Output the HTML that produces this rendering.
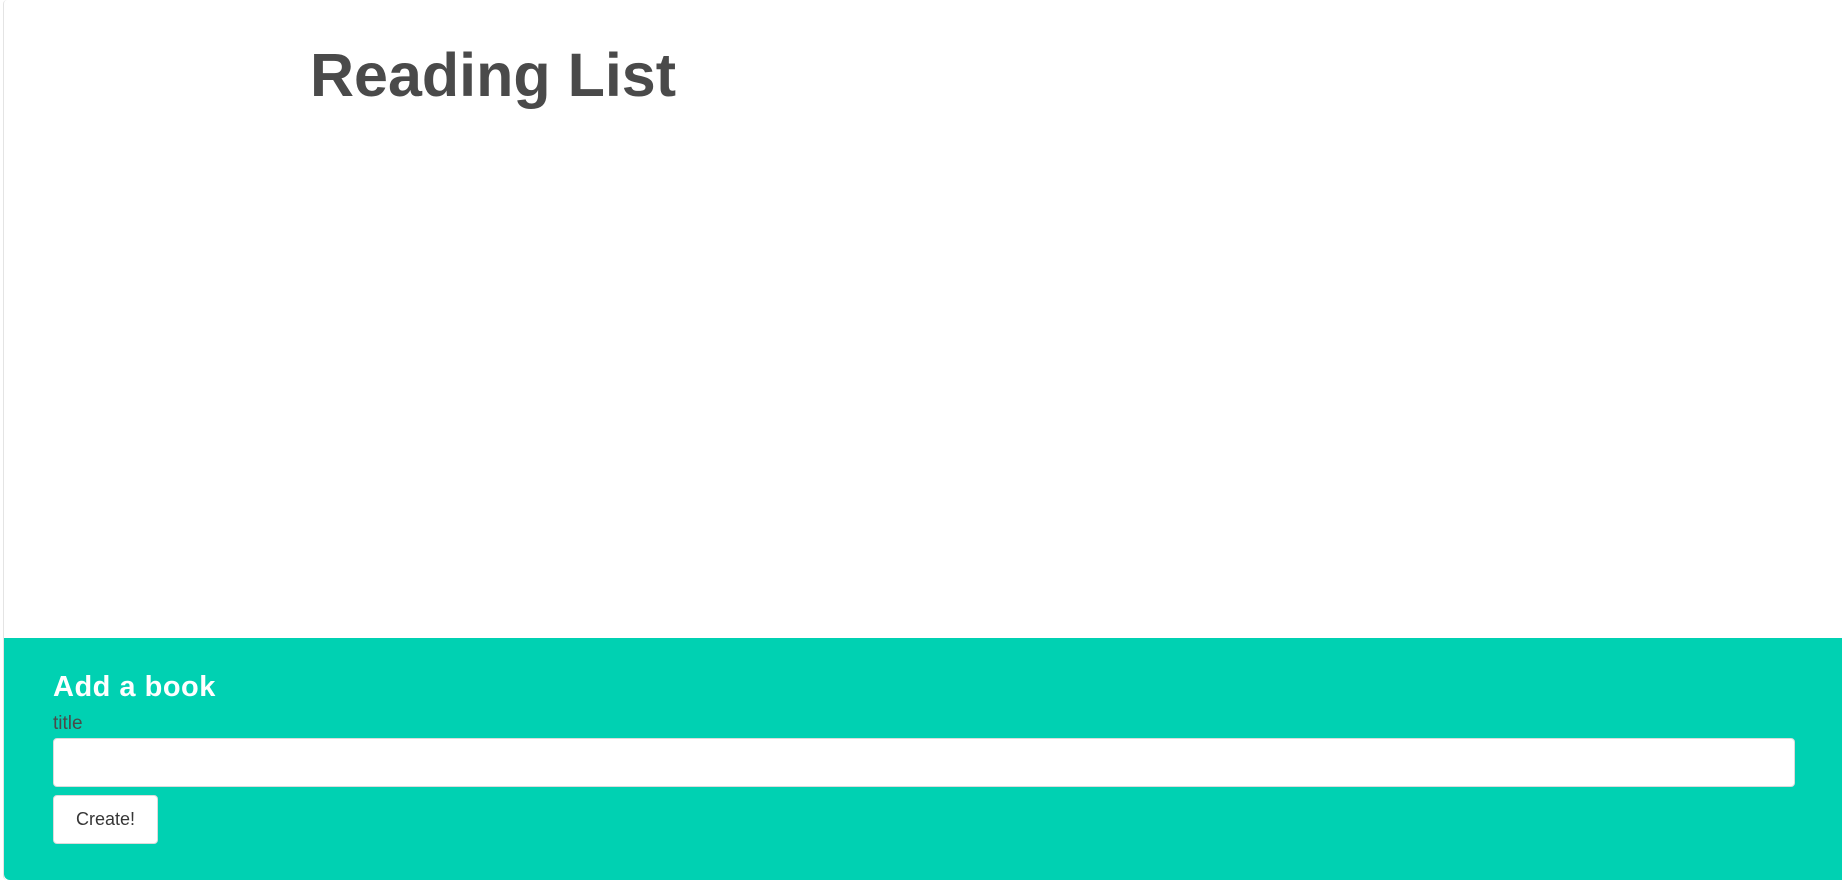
<!DOCTYPE html>
<html><head><meta charset="utf-8"><style>
html,body{margin:0;padding:0;width:1842px;height:880px;overflow:hidden;background:#fff;font-family:"Liberation Sans",sans-serif;}
#card{position:absolute;left:3px;top:0;width:1839px;height:880px;border-left:1px solid #e4e4e4;border-radius:4px 0 0 4px;overflow:hidden;box-sizing:border-box;}
#title{position:absolute;left:306px;top:39px;margin:0;font-size:61px;font-weight:bold;color:#4a4a4a;line-height:72px;letter-spacing:0px;}
#footer{position:absolute;left:0;top:638px;width:1839px;height:242px;background:#00d1b2;border-radius:0 0 0 6px;}
#add{position:absolute;left:49px;top:31px;margin:0;font-size:29px;font-weight:bold;color:#fff;line-height:36px;letter-spacing:0.5px;}
#lbl{position:absolute;left:49px;top:75px;font-size:19px;color:#4a4a4a;line-height:22px;}
#inp{position:absolute;left:49px;top:100px;width:1742px;height:49px;background:#fff;border:1px solid #dbdbdb;border-radius:4px;box-sizing:border-box;}
#btn{position:absolute;left:49px;top:157px;width:105px;height:49px;background:#fff;border:1px solid #dbdbdb;border-radius:4px;box-sizing:border-box;font-size:18px;color:#363636;font-family:"Liberation Sans",sans-serif;padding:0;}
</style></head><body>
<div id="card">
<h1 id="title">Reading List</h1>
<div id="footer">
<h2 id="add">Add a book</h2>
<div id="lbl">title</div>
<input id="inp" type="text">
<button id="btn">Create!</button>
</div>
</div>
</body></html>
